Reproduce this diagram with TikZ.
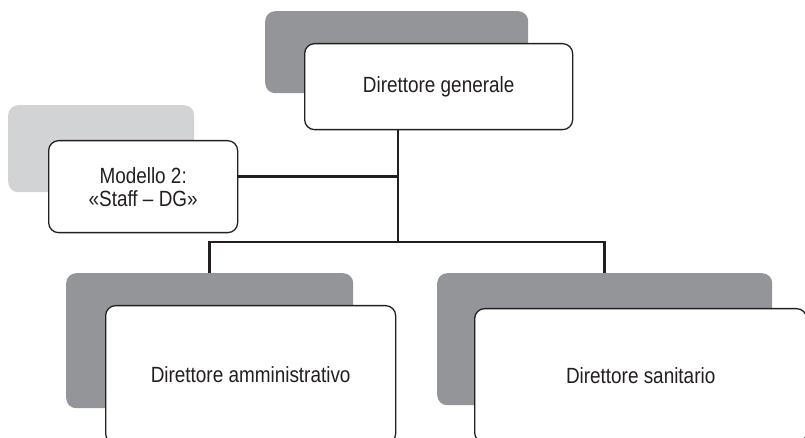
\documentclass[tikz,border=0pt]{standalone}
\usepackage{fontspec}
\setmainfont{Liberation Sans}[FakeStretch=0.86]
\definecolor{backdark}{RGB}{147,149,152}
\definecolor{backlight}{RGB}{209,211,212}
\definecolor{ink}{RGB}{35,31,32}
\tikzset{
  backbox/.style={rectangle, rounded corners=10bp, draw=none, inner sep=0pt, anchor=north west},
  frontbox/.style={rectangle, rounded corners=10bp, draw=ink, line width=1.3bp, fill=white,
    inner sep=0pt, anchor=north west, align=center, text=ink,
    font=\fontsize{22bp}{23bp}\selectfont},
  conn/.style={draw=ink, line width=2.8bp}
}
\begin{document}
\begin{tikzpicture}[x=1bp,y=-1bp]
\useasboundingbox (0,0) rectangle (805,438);
\clip (0,0) rectangle (805,438);
% back plates
\node[backbox, fill=backdark, minimum width=263bp, minimum height=82bp] (dgback) at (265,11) {};
\node[backbox, fill=backlight, minimum width=186bp, minimum height=87bp] (staffback) at (8,105) {};
\node[backbox, fill=backdark, minimum width=287bp, minimum height=135bp] (admback) at (66,273) {};
\node[backbox, fill=backdark, minimum width=335bp, minimum height=132bp] (sanback) at (437,273) {};
% connectors
\coordinate (dgfoot) at (398,129);
\coordinate (split) at (398,242);
\draw[conn] (dgfoot) -- (split);
\draw[conn] (admback.north) |- (split) -| (sanback.north);
% front boxes
\node[frontbox, minimum width=268bp, minimum height=86bp] (dg) at (304,43) {Direttore generale};
\node[frontbox, minimum width=189bp, minimum height=92bp] (staff) at (48,140) {Modello 2:\\«Staff – DG»};
\node[frontbox, minimum width=290bp, minimum height=138bp] (adm) at (105,305) {Direttore amministrativo};
\node[frontbox, minimum width=332bp, minimum height=134bp] (san) at (474,308) {Direttore sanitario};
\coordinate (staffout) at ([yshift=10bp]staff.east);
\draw[conn] (staffout) -- (staffout -| dgfoot);
\end{tikzpicture}
\end{document}
